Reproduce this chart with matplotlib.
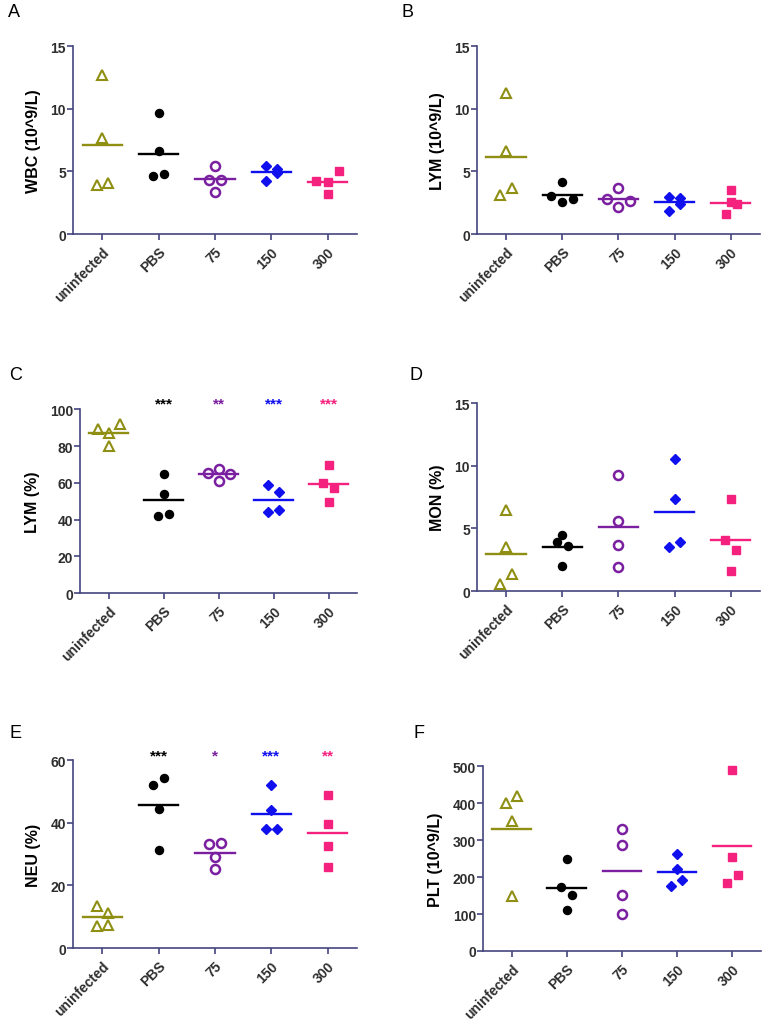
import matplotlib
matplotlib.use("Agg")
import matplotlib.pyplot as plt
import numpy as np

plt.rcParams['font.family'] = ['Liberation Sans', 'DejaVu Sans']

groups = ["uninfected", "PBS", "75", "150", "300"]
colors = ["#8f8f14", "#000000", "#7a1fa0", "#1010ee", "#f5217f"]
markers = ["^", "o", "o", "D", "s"]
filled = [False, True, False, True, True]

# values per panel, one list per group
wbc = [[12.67, 7.66, 3.95, 4.06], [9.67, 6.6, 4.64, 4.82], [5.46, 4.32, 4.32, 3.34],
       [5.41, 5.2, 4.24, 4.9], [4.27, 4.16, 5.04, 3.18]]
lym_abs = [[11.24, 6.65, 3.71, 3.10], [4.16, 3.02, 2.57, 2.78], [3.68, 2.78, 2.65, 2.17],
           [2.94, 2.89, 2.39, 1.86], [3.52, 2.54, 2.36, 1.59]]
lym_pct = [[89.2, 91.9, 87.0, 79.9], [64.7, 53.7, 43.0, 42.1], [65.6, 67.6, 65.1, 60.9],
           [58.6, 55.0, 43.9, 45.2], [70.0, 60.2, 57.1, 49.5]]
mon_pct = [[6.48, 3.48, 1.38, 0.56], [4.49, 3.93, 3.58, 1.99], [9.29, 5.57, 3.66, 1.88],
           [10.59, 7.38, 3.90, 3.50], [7.38, 4.09, 3.27, 1.59]]
neu_pct = [[13.4, 11.2, 7.1, 7.4], [54.5, 52.2, 44.3, 31.4], [33.4, 33.6, 29.0, 25.1],
           [52.0, 44.0, 37.9, 37.9], [49.0, 39.6, 32.7, 26.0]]
plt_abs = [[421, 401, 351, 150], [249, 172, 151, 110], [329, 288, 151, 99],
           [263, 222, 191, 177], [490, 254, 207, 184]]

# horizontal scatter offsets (category units) so overlapping points separate
wbc_dx = [[0, 0, -0.1, 0.1], [0, 0, -0.1, 0.1], [0, -0.1, 0.1, 0], [-0.1, 0.1, -0.1, 0.1], [-0.2, 0, 0.2, 0]]
lym_abs_dx = [[0, 0, 0.1, -0.1], [0, -0.2, 0, 0.2], [0, -0.2, 0.2, 0], [-0.1, 0.1, 0.1, -0.1], [0, 0, 0.12, -0.09]]
lym_pct_dx = [[-0.2, 0.2, 0, 0], [0, 0, 0.1, -0.1], [-0.2, 0, 0.2, 0], [-0.1, 0.1, -0.1, 0.1], [0, -0.1, 0.1, 0]]
mon_pct_dx = [[0, 0, 0.1, -0.1], [0, -0.1, 0.1, 0], [0, 0, 0, 0], [0, 0, 0.1, -0.1], [0, -0.1, 0.1, 0]]
neu_pct_dx = [[-0.1, 0.1, -0.1, 0.1], [0.1, -0.1, 0, 0], [-0.1, 0.1, 0, 0], [0, 0, -0.1, 0.1], [0, 0, 0, 0]]
plt_abs_dx = [[0.1, -0.1, 0, 0], [0, -0.1, 0.1, 0], [0, 0, 0, 0], [0, 0, 0.1, -0.1], [0, 0, 0.1, -0.1]]

lym_pct_stars = ["", "***", "**", "***", "***"]
neu_pct_stars = ["", "***", "*", "***", "**"]

axis_col = "#45457f"
tick_col = "#2e2e2e"

fig = plt.figure(figsize=(7.63, 10.2), dpi=100)


def panel(rect, letter, letter_xy, vals, dx, ylabel, yticks, stars=None, star_y=None):
    ax = fig.add_axes(rect)
    for i, grp in enumerate(vals):
        xs = i + np.array(dx[i])
        if filled[i]:
            ax.plot(xs, grp, linestyle="none", marker=markers[i], color=colors[i],
                    markersize=5.8 if markers[i] != "D" else 5.5, clip_on=False, zorder=3)
        else:
            ax.plot(xs, grp, linestyle="none", marker=markers[i], markerfacecolor="none",
                    markeredgecolor=colors[i], markeredgewidth=1.8 if markers[i] == "o" else 1.5,
                    markersize=6.5, clip_on=False, zorder=3)
        m = np.mean(grp)
        ax.plot([i - 0.35, i + 0.35], [m, m], color=colors[i], lw=1.7, zorder=2)
        if stars is not None and stars[i]:
            ax.text(i, star_y, stars[i], color=colors[i], ha="center", va="center",
                    fontsize=11, fontweight="bold")
    ax.set_xlim(-0.52, 4.52)
    ax.set_ylim(yticks[0], yticks[-1])
    ax.set_yticks(yticks)
    ax.set_xticks(range(len(groups)))
    ax.set_xticklabels(groups, rotation=45, ha="right", rotation_mode="anchor")
    for s in ["top", "right"]:
        ax.spines[s].set_visible(False)
    for s in ["left", "bottom"]:
        ax.spines[s].set_color(axis_col)
        ax.spines[s].set_linewidth(1.2)
    ax.tick_params(axis="both", colors=axis_col, width=1.2, length=4, labelcolor=tick_col,
                   labelsize=10)
    for t in ax.get_xticklabels() + ax.get_yticklabels():
        t.set_fontweight("bold")
    ax.tick_params(axis="y", pad=1)
    ax.set_ylabel(ylabel, fontsize=11.5, fontweight="bold", color="black", labelpad=7)
    fig.text(letter_xy[0], letter_xy[1], letter, fontsize=13, ha="left", va="center")
    return ax


panel([0.0957, 0.7696, 0.372, 0.184], "A", (0.01, 0.988), wbc, wbc_dx,
      "WBC (10^9/L)", [0, 5, 10, 15])
panel([0.625, 0.7696, 0.371, 0.184], "B", (0.526, 0.988), lym_abs, lym_abs_dx,
      "LYM (10^9/L)", [0, 5, 10, 15])
panel([0.105, 0.4176, 0.363, 0.180], "C", (0.012, 0.632), lym_pct, lym_pct_dx,
      "LYM (%)", [0, 20, 40, 60, 80, 100], lym_pct_stars, 103.3)
panel([0.625, 0.4196, 0.371, 0.184], "D", (0.537, 0.632), mon_pct, mon_pct_dx,
      "MON (%)", [0, 5, 10, 15])
panel([0.0957, 0.0696, 0.372, 0.184], "E", (0.012, 0.281), neu_pct, neu_pct_dx,
      "NEU (%)", [0, 20, 40, 60], neu_pct_stars, 61.7)
panel([0.633, 0.0667, 0.364, 0.181], "F", (0.542, 0.281), plt_abs, plt_abs_dx,
      "PLT (10^9/L)", [0, 100, 200, 300, 400, 500])

fig.savefig("out.png", dpi=100)
